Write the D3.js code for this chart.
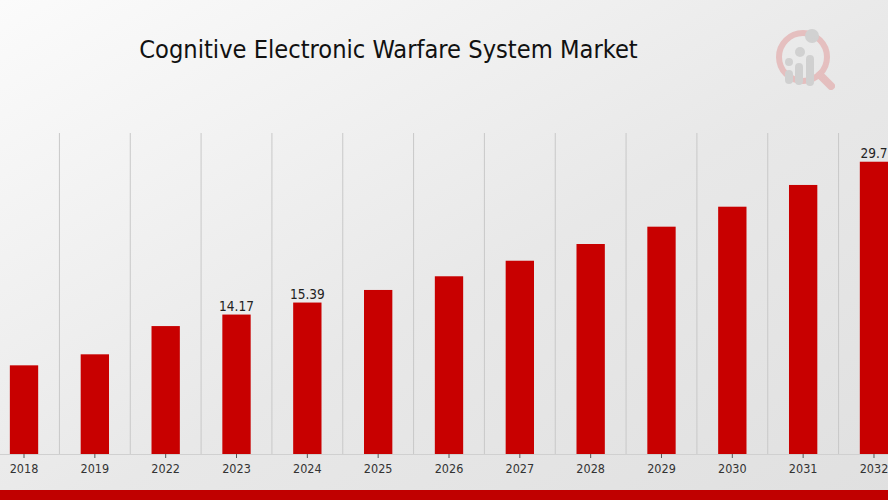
<!DOCTYPE html>
<html><head><meta charset="utf-8">
<script src="https://cdn.jsdelivr.net/npm/d3@7/dist/d3.min.js"></script>
<style>
html,body{margin:0;padding:0;overflow:hidden;}
svg{display:block;}
</style>
</head><body>
<script>
const years = ["2018","2019","2022","2023","2024","2025","2026","2027","2028","2029","2030","2031","2032"];
const values = [9.01,10.13,13.0,14.17,15.39,16.67,18.06,19.64,21.34,23.1,25.13,27.34,29.7];
const labeledYears = ["2023","2024","2032"];
const title = "Cognitive Electronic Warfare System Market";

const W = 888, H = 500;
const FONT = "DejaVu Sans Condensed, DejaVu Sans";
const svg = d3.select("body").append("svg").attr("width", W).attr("height", H);
const defs = svg.append("defs");
const bg = defs.append("linearGradient").attr("id","bg").attr("x1","0").attr("y1","0").attr("x2","1").attr("y2","1");
bg.append("stop").attr("offset","0").attr("stop-color","#fbfbfb");
bg.append("stop").attr("offset","0.55").attr("stop-color","#e8e8e8");
bg.append("stop").attr("offset","1").attr("stop-color","#e0e0e0");
svg.append("rect").attr("width",W).attr("height",H).attr("fill","url(#bg)");

const x = d3.scaleBand().domain(years).range([-11.4, 909.4]).paddingInner(0.6).paddingOuter(0.3);
const step = x.step();
const y = d3.scaleLinear().domain([0, 32.62]).range([454, 133]);

// gridlines between categories
const g = svg.append("g");
g.selectAll("line.grid").data(years.slice(1)).join("line")
  .attr("class","grid")
  .attr("x1", d => x(d) - (step - x.bandwidth())/2).attr("x2", d => x(d) - (step - x.bandwidth())/2)
  .attr("y1", y.range()[1]).attr("y2", y(0))
  .attr("stroke","#c8c8c8").attr("stroke-width",1);

// bars
g.selectAll("rect.bar").data(years).join("rect")
  .attr("class","bar")
  .attr("x", d => x(d)).attr("width", x.bandwidth())
  .attr("y", (d,i) => y(values[i])).attr("height", (d,i) => y(0) - y(values[i]))
  .attr("fill","#c80000");

// value labels
g.selectAll("text.val").data(years.filter(d => labeledYears.includes(d))).join("text")
  .attr("class","val")
  .attr("x", d => x(d) + x.bandwidth()/2)
  .attr("y", d => y(values[years.indexOf(d)]) - 3.5)
  .attr("text-anchor","middle")
  .attr("font-family",FONT).attr("font-stretch","condensed").attr("font-size",13.5).attr("fill","#222")
  .text(d => values[years.indexOf(d)]);

// x axis
const axis = svg.append("g").attr("transform",`translate(0,${y(0)})`)
  .call(d3.axisBottom(x).tickSize(4).tickPadding(6).tickSizeOuter(0));
axis.select(".domain").attr("stroke","#d0d0d0");
axis.selectAll(".tick line").attr("stroke","#555");
axis.selectAll(".tick text").attr("font-family",FONT).attr("font-stretch","condensed").attr("font-size",12.5).attr("fill","#333");

// title
svg.append("text").attr("x",388.5).attr("y",58).attr("text-anchor","middle")
  .attr("font-family",FONT).attr("font-stretch","condensed")
  .attr("font-size",25.2).attr("fill","#111").text(title);

// bottom band
svg.append("rect").attr("x",0).attr("y",490).attr("width",W).attr("height",10).attr("fill","#c00000");

// logo
const logo = svg.append("g").attr("opacity",0.65);
logo.append("circle").attr("cx",803).attr("cy",57).attr("r",24).attr("fill","none").attr("stroke","#e3a9a9").attr("stroke-width",6);
logo.append("line").attr("x1",820).attr("y1",75).attr("x2",831).attr("y2",86).attr("stroke","#e3a9a9").attr("stroke-width",8).attr("stroke-linecap","round");
[[789,70,14],[799,63,22],[810,55,31]].forEach(([cx,top,h])=>{
  logo.append("rect").attr("x",cx-4).attr("y",top).attr("width",8).attr("height",h).attr("rx",4).attr("fill","#c4c4c4");
});
logo.append("circle").attr("cx",789).attr("cy",62).attr("r",4).attr("fill","#c4c4c4");
logo.append("circle").attr("cx",800).attr("cy",52).attr("r",5).attr("fill","#c4c4c4");
logo.append("circle").attr("cx",812).attr("cy",36).attr("r",7).attr("fill","#c4c4c4");
</script>
</body></html>
